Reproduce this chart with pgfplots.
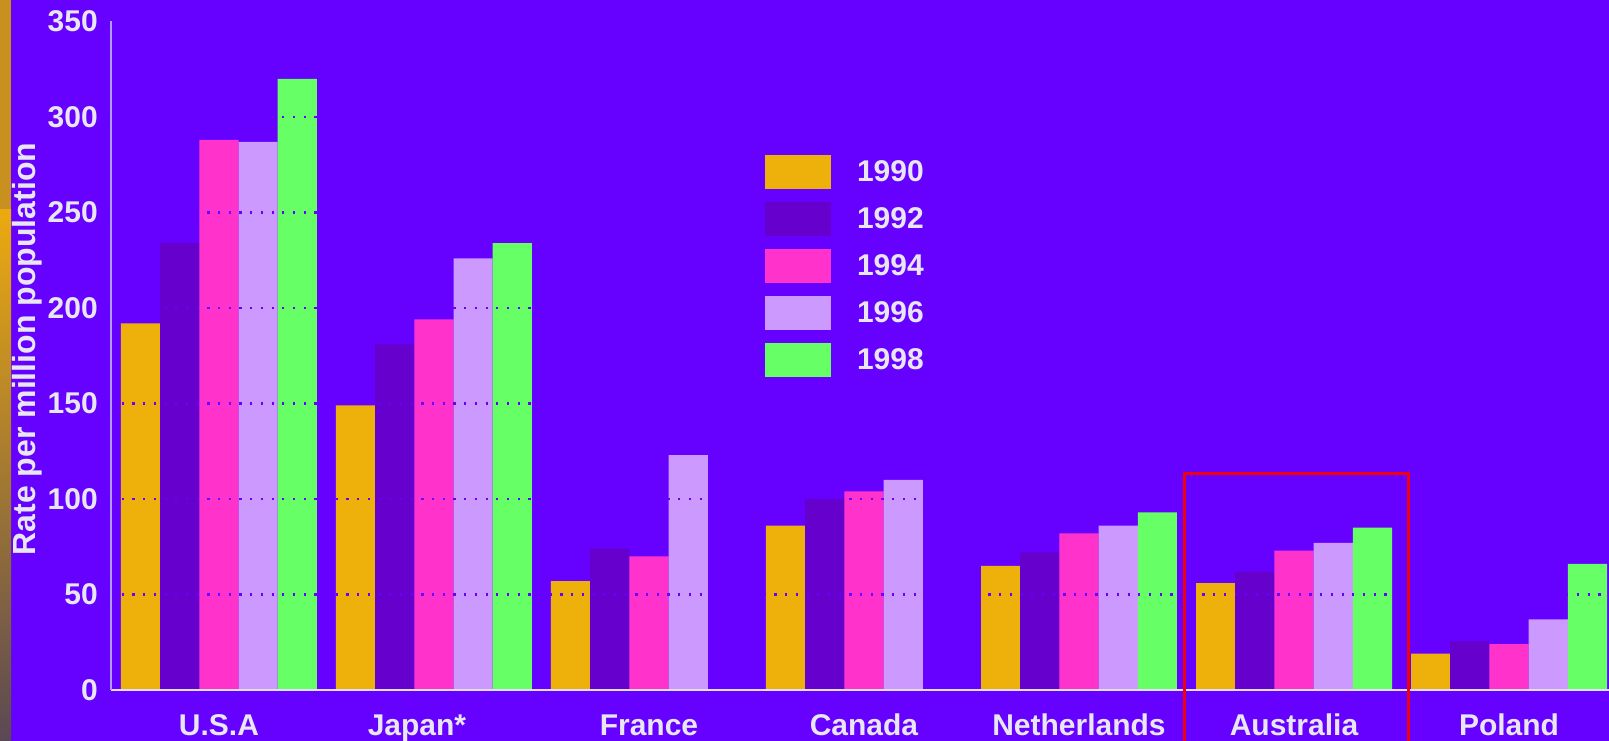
\documentclass[border=0pt]{standalone}
\usepackage{pgfplots}
\pgfplotsset{compat=1.18}
\usepackage{fontspec}
\setmainfont{Liberation Sans}

\definecolor{bg}{HTML}{6600FF}
\definecolor{fg}{HTML}{E8E6F2}
\definecolor{cA}{HTML}{EEB00B}
\definecolor{cB}{HTML}{6600CC}
\definecolor{cC}{HTML}{FF33CC}
\definecolor{cD}{HTML}{CC99FF}
\definecolor{cE}{HTML}{66FF66}
\definecolor{xline}{HTML}{E2E0F0}
\definecolor{yline}{HTML}{B49CFF}
\definecolor{stripTex}{HTML}{C8901E}
\definecolor{stripTop}{HTML}{ECAA10}
\definecolor{stripMid}{HTML}{A27034}
\definecolor{stripBot}{HTML}{5A4854}
\definecolor{boxred}{HTML}{EE0010}

\newcommand{\lbl}{\fontsize{30}{36}\selectfont\bfseries}

% rates per million population, countries at x = 0..6
\pgfplotstableread{
x  v
0  192
1  149
2  57
3  86
4  65
5  56
6  19
}\yrA
\pgfplotstableread{
x  v
0  234
1  181
2  74
3  100
4  72
5  62
6  25.5
}\yrB
\pgfplotstableread{
x  v
0  288
1  194
2  70
3  104
4  82
5  73
6  24
}\yrC
\pgfplotstableread{
x  v
0  287
1  226
2  123
3  110
4  86
5  77
6  37
}\yrD
\pgfplotstableread{
x  v
0  320
1  234
4  93
5  85
6  66
}\yrE

\pgfplotsset{
  ybar legend/.style={
    /pgfplots/legend image code/.code={\fill[##1] (0pt,-17pt) rectangle (66pt,17pt);}
  }
}

\begin{document}
\begin{tikzpicture}[x=1pt,y=1pt]
\useasboundingbox (0,0) rectangle (1609,741);
\clip (0,0) rectangle (1609,741);
\fill[bg] (0,0) rectangle (1609,741);
% slide border strip on the left
\fill[stripTex] (0,531) rectangle (11,741);
\shade[top color=stripTop, middle color=stripMid, bottom color=stripBot] (0,0) rectangle (11,531);

\begin{axis}[
  at={(111pt,51pt)}, anchor=south west,
  scale only axis, width=1498pt, height=668.5pt,
  xmin=-0.502, xmax=6.465, ymin=0, ymax=350,
  ybar=0pt, bar width=0.1823,
  axis on top,
  axis lines*=left,
  x axis line style={draw=xline, line width=1.8pt, -},
  y axis line style={draw=yline, line width=1.6pt, -},
  major tick length=0pt,
  tick style={draw=none},
  ytick={50,100,...,350},
  yticklabels={50,100,150,200,250,300,350},
  extra y ticks={0},
  extra y tick labels={0},
  extra y tick style={grid=none},
  ymajorgrids,
  grid style={draw=bg, line width=2.2pt, dash pattern=on 2.2pt off 8.5pt},
  xtick={0,...,6},
  xticklabels={U.S.A,Japan*\hspace*{34pt},France,Canada,Netherlands,Australia,Poland},
  ticklabel style={font=\lbl, text=fg},
  yticklabel style={anchor=east, inner sep=0pt, xshift=-13pt},
  xticklabel style={anchor=base, inner sep=0pt, yshift=-46pt},
  ylabel={Rate per million population},
  ylabel style={at={(axis description cs:-0.0507,0.510)}, anchor=base,
    font=\fontsize{32}{38}\selectfont\bfseries, text=fg, inner sep=0pt},
  legend style={at={(axis description cs:0.4366,0.8003)}, anchor=north west,
    draw=none, fill=none, inner sep=0pt, outer sep=0pt,
    row sep=13pt, column sep=26pt, font=\lbl, text=fg,
    nodes={inner sep=0pt}},
  legend cell align=left,
]
\addplot[draw=none, fill=cA] table[x=x, y=v] {\yrA};
\addplot[draw=none, fill=cB] table[x=x, y=v] {\yrB};
\addplot[draw=none, fill=cC] table[x=x, y=v] {\yrC};
\addplot[draw=none, fill=cD] table[x=x, y=v] {\yrD};
\addplot[draw=none, fill=cE] table[x=x, y=v] {\yrE};
\legend{1990,1992,1994,1996,1998}
\end{axis}

% highlight around Australia
\draw[boxred, line width=3pt] (1184.7,-10) -- (1184.7,267.5) -- (1408,267.5) -- (1408,-10);
\end{tikzpicture}
\end{document}
